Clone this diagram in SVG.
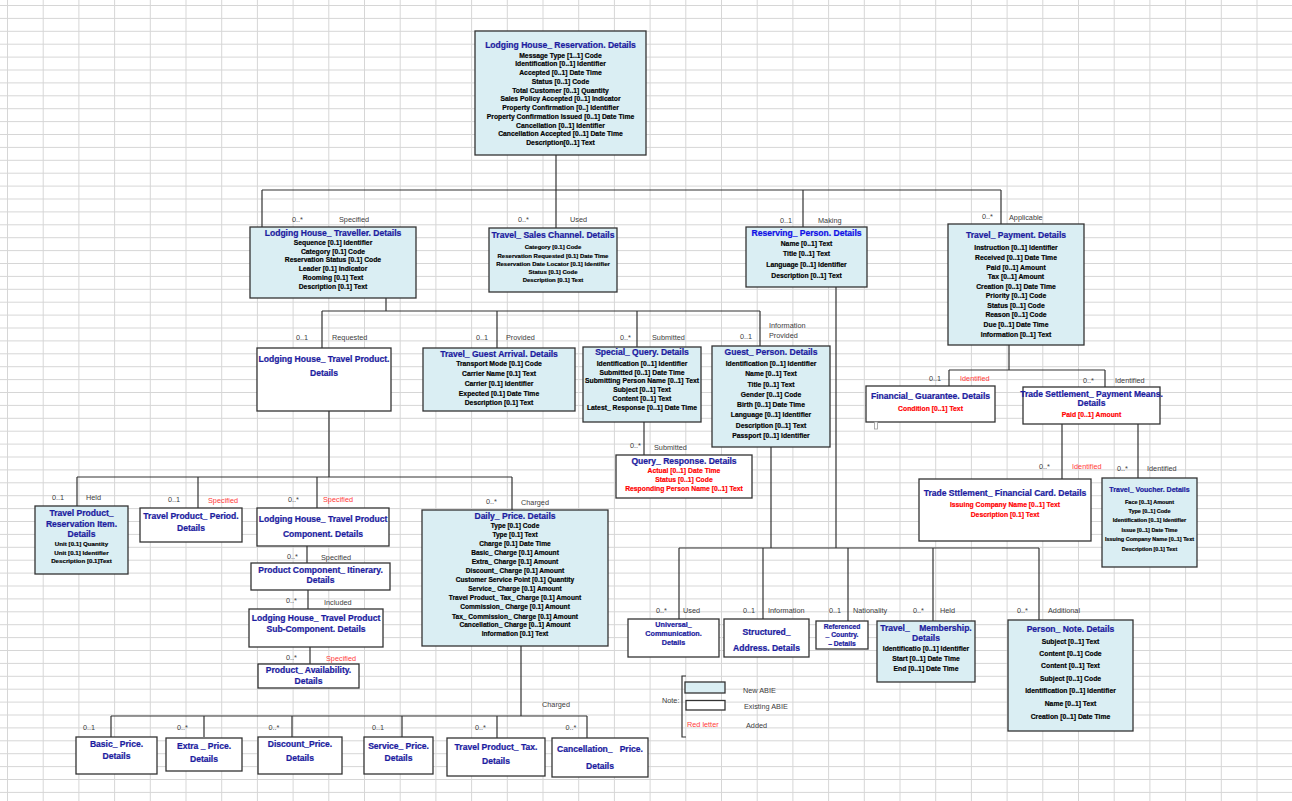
<svg xmlns="http://www.w3.org/2000/svg" width="1292" height="801" viewBox="0 0 1292 801">
<defs>
<pattern id="grid" x="7" y="5" width="35.7" height="12.9" patternUnits="userSpaceOnUse">
<path d="M0 0.5H35.7M0.5 0V12.9" stroke="#d6d6d6" stroke-width="1" fill="none"/>
</pattern>
<style>
.box{stroke:#333;stroke-width:1.3}
.nb{fill:#DAEEF3}
.eb{fill:#ffffff}
.t{font-family:"Liberation Sans",Arial,sans-serif;font-weight:bold;font-size:9.5px;fill:#1c1ca0;stroke:#1c1ca0;stroke-width:0.25;text-anchor:middle}
.tv{fill:#0f0fe6;stroke:#0f0fe6}
.a{font-family:"Liberation Sans",Arial,sans-serif;font-weight:bold;font-size:6.8px;fill:#000;stroke:#000;stroke-width:0.18;text-anchor:middle}
.r{fill:#ff0000;stroke:#ff0000}
.l{font-family:"Liberation Sans",Arial,sans-serif;font-size:7.3px;fill:#404040}
.lr{fill:#ff3b3b}
.c{stroke:#333;stroke-width:1.2;fill:none}
.pre{white-space:pre}
</style>
</defs>
<rect width="1292" height="801" fill="#fff"/>
<rect width="1292" height="801" fill="url(#grid)"/>

<g id="connectors">
<path class="c" d="M556 155V190M262 190H1001M262 190V227M556 190V228M803 190V227M1001 190V224"/>
<path class="c" d="M386 298V311M322 311H760M322 311V348M497 311V348M637 311V347M760 311V346"/>
<path class="c" d="M644 422V455"/>
<path class="c" d="M1009 345V370M949 370H1105M949 370V386M1105 370V387M1062 424V479M1138 424V478"/>
<path class="c" d="M329 411V477M77 477H512M77 477V506M198 477V508M317 477V508M512 477V510"/>
<path class="c" d="M307 546V563M308 590V609M310 647V664"/>
<path class="c" d="M521 646V716M111 716H587M111 716V737M204 716V737M292 716V737M402 716V737M497 716V738M587 716V738"/>
<path class="c" d="M771 447V548M836 287V548M679 548H1039M679 548V619M763 548V619M848 548V621M933 548V621M1039 548V620"/>
</g>

<g id="labels">
<text class="l" x="292" y="221.6">0..*</text><text class="l" x="339" y="221.6">Specified</text>
<text class="l" x="518" y="221.6">0..*</text><text class="l" x="570" y="221.6">Used</text>
<text class="l" x="780" y="222.6">0..1</text><text class="l" x="818" y="222.6">Making</text>
<text class="l" x="982" y="219.3">0..*</text><text class="l" x="1009" y="219.6">Applicable</text>
<text class="l" x="296" y="339.6">0..1</text><text class="l" x="332" y="339.6">Requested</text>
<text class="l" x="476" y="339.6">0..1</text><text class="l" x="506" y="339.6">Provided</text>
<text class="l" x="620" y="339.6">0..*</text><text class="l" x="652" y="339.6">Submitted</text>
<text class="l" x="740" y="339.3">0..1</text><text class="l" x="769" y="327.6">Information</text><text class="l" x="769" y="338.3">Provided</text>
<text class="l" x="630" y="448.3">0..*</text><text class="l" x="654" y="449.6">Submitted</text>
<text class="l" x="929" y="381">0..1</text><text class="l lr" x="960" y="380.6">Identified</text>
<text class="l" x="1083" y="382.6">0..*</text><text class="l" x="1115" y="382.6">Identified</text>
<text class="l" x="1039" y="469.3">0..*</text><text class="l lr" x="1072" y="468.6">Identified</text>
<text class="l" x="1117" y="470.6">0..*</text><text class="l" x="1147" y="470.6">Identified</text>
<text class="l" x="52" y="500">0..1</text><text class="l" x="86" y="500">Held</text>
<text class="l" x="168" y="501.6">0..1</text><text class="l lr" x="208" y="502.6">Specified</text>
<text class="l" x="288" y="501.6">0..*</text><text class="l lr" x="323" y="501.6">Specified</text>
<text class="l" x="486" y="504.3">0..*</text><text class="l" x="521" y="504.6">Charged</text>
<text class="l" x="287" y="559.3">0..*</text><text class="l" x="321" y="559.6">Specified</text>
<text class="l" x="286" y="602.6">0..*</text><text class="l" x="324" y="604.6">Included</text>
<text class="l" x="286" y="660">0..*</text><text class="l lr" x="326" y="660.6">Specified</text>
<text class="l" x="542" y="706.6">Charged</text>
<text class="l" x="83" y="729.5">0..1</text><text class="l" x="177" y="729.5">0..*</text><text class="l" x="268.5" y="729.5">0..*</text>
<text class="l" x="372" y="729.5">0..1</text><text class="l" x="475" y="729.5">0..*</text><text class="l" x="565.5" y="729.5">0..*</text>
<text class="l" x="656" y="612.6">0..*</text><text class="l" x="683" y="612.6">Used</text>
<text class="l" x="743" y="612.6">0..1</text><text class="l" x="768" y="612.6">Information</text>
<text class="l" x="829" y="612.6">0..1</text><text class="l" x="853" y="612.6">Nationality</text>
<text class="l" x="913" y="612.6">0..*</text><text class="l" x="940" y="612.6">Held</text>
<text class="l" x="1017" y="612.6">0..*</text><text class="l" x="1048" y="612.6">Additional</text>
</g>

<g id="n-reservation">
<rect class="box nb" x="475" y="31" width="171" height="124"/>
<text class="t" transform="translate(560.5 48.3) scale(.9 1)">Lodging House_  Reservation. Details</text>
<text class="a" x="560.5" y="57.6">Message Type [1..1] Code</text>
<text class="a" x="560.5" y="66.4">Identification [0..1] Identifier</text>
<text class="a" x="560.5" y="75.1">Accepted [0..1] Date Time</text>
<text class="a" x="560.5" y="83.9">Status [0..1] Code</text>
<text class="a" x="560.5" y="92.6">Total Customer [0..1] Quantity</text>
<text class="a" x="560.5" y="101.4">Sales Policy Accepted [0..1] Indicator</text>
<text class="a" x="560.5" y="110.1">Property Confirmation [0..] Identifier</text>
<text class="a" x="560.5" y="118.9">Property Confirmation Issued [0..1] Date Time</text>
<text class="a" x="560.5" y="127.6">Cancellation [0..1] Identifier</text>
<text class="a" x="560.5" y="136.4">Cancellation Accepted [0..1] Date Time</text>
<text class="a" x="560.5" y="145.1">Description[0..1] Text</text>
</g>

<g id="n-traveller">
<rect class="box nb" x="250" y="227" width="166" height="71"/>
<text class="t" transform="translate(333 235.6) scale(.9 1)">Lodging House_  Traveller. Details</text>
<text class="a" x="333" y="245.1">Sequence [0.1] Identifier</text>
<text class="a" x="333" y="254.1">Category [0.1] Code</text>
<text class="a" x="333" y="262.4">Reservation Status [0.1] Code</text>
<text class="a" x="333" y="271.4">Leader [0.1] Indicator</text>
<text class="a" x="333" y="279.7">Rooming [0.1] Text</text>
<text class="a" x="333" y="289.1">Description  [0.1] Text</text>
</g>

<g id="n-sales-channel">
<rect class="box nb" x="489" y="228" width="128" height="64"/>
<text class="t" transform="translate(553 238.3) scale(.9 1)">Travel_ Sales Channel. Details</text>
<text class="a" style="font-size:6px" x="553" y="249.1">Category [0.1] Code</text>
<text class="a" style="font-size:6px" x="553" y="257.6">Reservation Requested [0.1] Date Time</text>
<text class="a" style="font-size:6px" x="553" y="266.1">Reservation Date Locator [0.1] Identifier</text>
<text class="a" style="font-size:6px" x="553" y="274.1">Status [0.1] Code</text>
<text class="a" style="font-size:6px" x="553" y="282.1">Description [0.1] Text</text>
</g>

<g id="n-reserving-person">
<rect class="box nb" x="746" y="227" width="121" height="60"/>
<text class="t tv" transform="translate(806.5 235.6) scale(.9 1)">Reserving_ Person. Details</text>
<text class="a" x="806.5" y="246.4">Name [0..1] Text</text>
<text class="a" x="806.5" y="256.4">Title [0..1] Text</text>
<text class="a" x="806.5" y="267.4">Language [0..1] Identifier</text>
<text class="a" x="806.5" y="278.1">Description [0..1] Text</text>
</g>

<g id="n-payment">
<rect class="box nb" x="948" y="224" width="136" height="121"/>
<text class="t" transform="translate(1016 238.3) scale(.9 1)">Travel_ Payment. Details</text>
<text class="a" x="1016" y="250.1">Instruction [0..1] Identifier</text>
<text class="a" x="1016" y="259.7">Received [0..1] Date Time</text>
<text class="a" x="1016" y="269.7">Paid [0..1] Amount</text>
<text class="a" x="1016" y="279.1">Tax [0..1] Amount</text>
<text class="a" x="1016" y="288.7">Creation [0..1] Date Time</text>
<text class="a" x="1016" y="298.1">Priority [0..1] Code</text>
<text class="a" x="1016" y="308.1">Status [0..1] Code</text>
<text class="a" x="1016" y="317.4">Reason [0..1] Code</text>
<text class="a" x="1016" y="326.7">Due [0..1] Date Time</text>
<text class="a" x="1016" y="336.7">Information [0..1] Text</text>
</g>

<g id="n-travel-product">
<rect class="box eb" x="257" y="348" width="134" height="63"/>
<text class="t" transform="translate(324 361.6) scale(.9 1)">Lodging House_ Travel Product.</text>
<text class="t" transform="translate(324 376) scale(.9 1)">Details</text>
</g>

<g id="n-guest-arrival">
<rect class="box nb" x="423" y="348" width="152" height="63"/>
<text class="t" transform="translate(499 356.6) scale(.9 1)">Travel_ Guest Arrival. Details</text>
<text class="a" x="499" y="365.7">Transport Mode [0.1] Code</text>
<text class="a" x="499" y="375.7">Carrier Name [0.1] Text</text>
<text class="a" x="499" y="385.7">Carrier [0.1] Identifier</text>
<text class="a" x="499" y="395.7">Expected [0.1] Date Time</text>
<text class="a" x="499" y="405.1">Description [0.1] Text</text>
</g>

<g id="n-special-query">
<rect class="box nb" x="583" y="347" width="118" height="75"/>
<text class="t" transform="translate(642 355) scale(.9 1)">Special_ Query. Details</text>
<text class="a" x="642" y="365.7">Identification [0..1] Identifier</text>
<text class="a" x="642" y="374.7">Submitted [0..1] Date Time</text>
<text class="a" x="642" y="383.4">Submitting Person Name [0..1] Text</text>
<text class="a" x="642" y="392.4">Subject [0..1] Text</text>
<text class="a" x="642" y="401.4">Content [0..1] Text</text>
<text class="a" x="642" y="410.1">Latest_ Response [0..1] Date Time</text>
</g>

<g id="n-guest-person">
<rect class="box nb" x="712" y="346" width="118" height="101"/>
<text class="t" transform="translate(771 355) scale(.9 1)">Guest_ Person. Details</text>
<text class="a" x="771" y="365.7">Identification [0..1] Identifier</text>
<text class="a" x="771" y="375.7">Name [0..1] Text</text>
<text class="a" x="771" y="386.7">Title [0..1] Text</text>
<text class="a" x="771" y="396.7">Gender [0..1] Code</text>
<text class="a" x="771" y="407.4">Birth [0..1] Date Time</text>
<text class="a" x="771" y="417.4">Language [0..1] Identifier</text>
<text class="a" x="771" y="428.1">Description [0..1] Text</text>
<text class="a" x="771" y="438.4">Passport [0..1] Identifier</text>
</g>

<g id="n-query-response">
<rect class="box eb" x="616" y="455" width="136" height="43"/>
<text class="t" transform="translate(684 464.3) scale(.9 1)">Query_  Response. Details</text>
<text class="a r" x="684" y="473.4">Actual [0..1] Date Time</text>
<text class="a r" x="684" y="482.4">Status [0..1] Code</text>
<text class="a r" x="684" y="491.4">Responding Person Name [0..1] Text</text>
</g>

<g id="n-financial-guarantee">
<rect class="box eb" x="866" y="386" width="129" height="36"/>
<rect x="874.5" y="422" width="3" height="7" fill="#fff" stroke="#999" stroke-width="0.8"/>
<text class="t" transform="translate(930.5 399) scale(.9 1)">Financial_ Guarantee. Details</text>
<text class="a r" x="930.5" y="410.7">Condition [0..1] Text</text>
</g>

<g id="n-trade-settlement">
<rect class="box eb" x="1023" y="387" width="137" height="37"/>
<text class="t" transform="translate(1091.5 396.6) scale(.9 1)">Trade Settlement_ Payment Means.</text>
<text class="t" transform="translate(1091.5 406) scale(.9 1)">Details</text>
<text class="a r" x="1091.5" y="416.7">Paid [0..1] Amount</text>
</g>

<g id="n-financial-card">
<rect class="box eb" x="919" y="479" width="172" height="62"/>
<text class="t" transform="translate(1005 496) scale(.9 1)">Trade Sttlement_ Financial Card.  Details</text>
<text class="a r" x="1005" y="507.4">Issuing Company Name [0..1] Text</text>
<text class="a r" x="1005" y="516.7">Description  [0.1] Text</text>
</g>

<g id="n-voucher">
<rect class="box nb" x="1102" y="478" width="95" height="89"/>
<text class="t" style="font-size:8px" transform="translate(1149.5 492.3) scale(.88 1)">Travel_ Voucher. Details</text>
<text class="a" style="font-size:5.5px" x="1149.5" y="504">Face [0..1] Amount</text>
<text class="a" style="font-size:5.5px" x="1149.5" y="513">Type [0..1] Code</text>
<text class="a" style="font-size:5.5px" x="1149.5" y="522">Identification [0..1] Identifier</text>
<text class="a" style="font-size:5.5px" x="1149.5" y="532">Issue [0..1] Date Time</text>
<text class="a" style="font-size:5.5px" x="1149.5" y="541">Issuing Company Name [0..1] Text</text>
<text class="a" style="font-size:5.5px" x="1149.5" y="551">Description  [0.1] Text</text>
</g>

<g id="n-reservation-item">
<rect class="box nb" x="35" y="506" width="93" height="68"/>
<text class="t" transform="translate(81.5 516) scale(.9 1)">Travel Product_</text>
<text class="t" transform="translate(81.5 526.6) scale(.9 1)">Reservation Item.</text>
<text class="t" transform="translate(81.5 536.6) scale(.9 1)">Details</text>
<text class="a" style="font-size:6.2px" x="81.5" y="545.5">Unit [0.1] Quantity</text>
<text class="a" style="font-size:6.2px" x="81.5" y="554.5">Unit [0.1] Identifier</text>
<text class="a" style="font-size:6.2px" x="81.5" y="563">Description [0.1]Text</text>
</g>

<g id="n-period">
<rect class="box eb" x="140" y="508" width="102" height="34"/>
<text class="t" transform="translate(191 519) scale(.9 1)">Travel Product_ Period.</text>
<text class="t" transform="translate(191 530.6) scale(.9 1)">Details</text>
</g>

<g id="n-component">
<rect class="box eb" x="257" y="508" width="132" height="38"/>
<text class="t" transform="translate(323 521.6) scale(.9 1)">Lodging House_ Travel Product</text>
<text class="t" transform="translate(323 536.6) scale(.9 1)">Component. Details</text>
</g>

<g id="n-itinerary">
<rect class="box eb" x="251" y="563" width="139" height="27"/>
<text class="t" transform="translate(320.5 573.3) scale(.9 1)">Product Component_  Itinerary.</text>
<text class="t" transform="translate(320.5 583.3) scale(.9 1)">Details</text>
</g>

<g id="n-sub-component">
<rect class="box eb" x="249" y="609" width="134" height="38"/>
<text class="t" transform="translate(316 620.6) scale(.9 1)">Lodging House_ Travel Product</text>
<text class="t" transform="translate(316 631.6) scale(.9 1)">Sub-Component. Details</text>
</g>

<g id="n-availability">
<rect class="box eb" x="258" y="664" width="101" height="24"/>
<text class="t" transform="translate(308.5 673.3) scale(.9 1)">Product_ Availability.</text>
<text class="t" transform="translate(308.5 684) scale(.9 1)">Details</text>
</g>

<g id="n-daily-price">
<rect class="box nb" x="422" y="510" width="186" height="136"/>
<text class="t" transform="translate(515 519.3) scale(.9 1)">Daily_ Price. Details</text>
<g class="a" style="font-size:6.6px">
<text x="515" y="528">Type [0.1] Code</text>
<text x="515" y="537">Type [0.1] Text</text>
<text x="515" y="546">Charge  [0.1] Date Time</text>
<text x="515" y="555">Basic_ Charge [0.1] Amount</text>
<text x="515" y="564">Extra_ Charge [0.1] Amount</text>
<text x="515" y="573">Discount_ Charge [0.1] Amount</text>
<text x="515" y="582">Customer Service Point  [0.1] Quantity</text>
<text x="515" y="591">Service_ Charge [0.1] Amount</text>
<text x="515" y="600">Travel Product_ Tax_ Charge [0.1] Amount</text>
<text x="515" y="609">Commission_ Charge [0.1] Amount</text>
<text x="515" y="619">Tax_ Commission_ Charge [0.1] Amount</text>
<text x="515" y="627.3">Cancellation_ Charge [0..1] Amount</text>
<text x="515" y="635.6">Information  [0.1] Text</text>
</g>
</g>

<g id="n-basic-price">
<rect class="box eb" x="76" y="737" width="81" height="37"/>
<text class="t" transform="translate(116.5 747) scale(.9 1)">Basic_ Price.</text>
<text class="t" transform="translate(116.5 758.5) scale(.9 1)">Details</text>
</g>
<g id="n-extra-price">
<rect class="box eb" x="166" y="738" width="76" height="33"/>
<text class="t" transform="translate(204 749) scale(.9 1)">Extra _ Price.</text>
<text class="t" transform="translate(204 761.5) scale(.9 1)">Details</text>
</g>
<g id="n-discount-price">
<rect class="box eb" x="258" y="737" width="84" height="37"/>
<text class="t" transform="translate(300 747) scale(.9 1)">Discount_Price.</text>
<text class="t" transform="translate(300 760.5) scale(.9 1)">Details</text>
</g>
<g id="n-service-price">
<rect class="box eb" x="364" y="737" width="69" height="37"/>
<text class="t" transform="translate(398.5 749) scale(.9 1)">Service_ Price.</text>
<text class="t" transform="translate(398.5 760.5) scale(.9 1)">Details</text>
</g>
<g id="n-tax-price">
<rect class="box eb" x="447" y="738" width="98" height="38"/>
<text class="t" transform="translate(496 750) scale(.9 1)">Travel Product_ Tax.</text>
<text class="t" transform="translate(496 763.5) scale(.9 1)">Details</text>
</g>
<g id="n-cancellation-price">
<rect class="box eb" x="552" y="738" width="96" height="39"/>
<text class="t pre" transform="translate(600 752) scale(.9 1)">Cancellation_   Price.</text>
<text class="t" transform="translate(600 769) scale(.9 1)">Details</text>
</g>

<g id="n-universal-communication">
<rect class="box eb" x="628" y="619" width="91" height="38"/>
<text class="t" style="font-size:8px" transform="translate(673.5 626.5) scale(.9 1)">Universal_</text>
<text class="t" style="font-size:8px" transform="translate(673.5 635.7) scale(.9 1)">Communication.</text>
<text class="t" style="font-size:8px" transform="translate(673.5 644.9) scale(.9 1)">Details</text>
</g>
<g id="n-structured-address">
<rect class="box eb" x="724" y="619" width="85" height="38"/>
<text class="t" transform="translate(766.5 635) scale(.9 1)">Structured_</text>
<text class="t" transform="translate(766.5 650.6) scale(.9 1)">Address. Details</text>
</g>
<g id="n-referenced-country">
<rect class="box eb" x="816" y="621" width="52" height="28"/>
<text class="t" style="font-size:7.5px" transform="translate(842 628.5) scale(.9 1)">Referenced</text>
<text class="t" style="font-size:7.5px" transform="translate(842 637.1) scale(.9 1)">_ Country.</text>
<text class="t" style="font-size:7.5px" transform="translate(842 645.7) scale(.9 1)">– Details</text>
</g>
<g id="n-membership">
<rect class="box nb" x="877" y="621" width="98" height="61"/>
<text class="t pre" transform="translate(926 630.6) scale(.9 1)">Travel_    Membership.</text>
<text class="t" transform="translate(926 640.6) scale(.9 1)">Details</text>
<text class="a" x="926" y="650.7">Identificatio [0..1] Identifier</text>
<text class="a" x="926" y="661.4">Start [0..1] Date Time</text>
<text class="a" x="926" y="671.4">End [0..1] Date Time</text>
</g>
<g id="n-person-note">
<rect class="box nb" x="1008" y="620" width="125" height="111"/>
<text class="t" transform="translate(1070.5 631.6) scale(.9 1)">Person_ Note. Details</text>
<text class="a" x="1070.5" y="644.1">Subject [0..1] Text</text>
<text class="a" x="1070.5" y="656.4">Content [0..1] Code</text>
<text class="a" x="1070.5" y="668.4">Content [0..1] Text</text>
<text class="a" x="1070.5" y="681.4">Subject [0..1] Code</text>
<text class="a" x="1070.5" y="693.4">Identification [0..1] Identifier</text>
<text class="a" x="1070.5" y="706.4">Name [0..1] Text</text>
<text class="a" x="1070.5" y="719.1">Creation [0..1] Date Time</text>
</g>

<g id="legend">
<path d="M686 676H682V737H686" fill="none" stroke="#333" stroke-width="1.2"/>
<text class="l" x="662" y="703">Note:</text>
<rect class="box nb" x="685" y="682" width="40" height="11"/>
<rect class="box eb" x="686" y="700.5" width="39" height="9.5"/>
<text class="l lr" x="687" y="726.6">Red letter</text>
<text class="l" x="743" y="692.5">New ABIE</text>
<text class="l" x="744" y="708.5">Existing ABIE</text>
<text class="l" x="746" y="727.5">Added</text>
</g>
</svg>
